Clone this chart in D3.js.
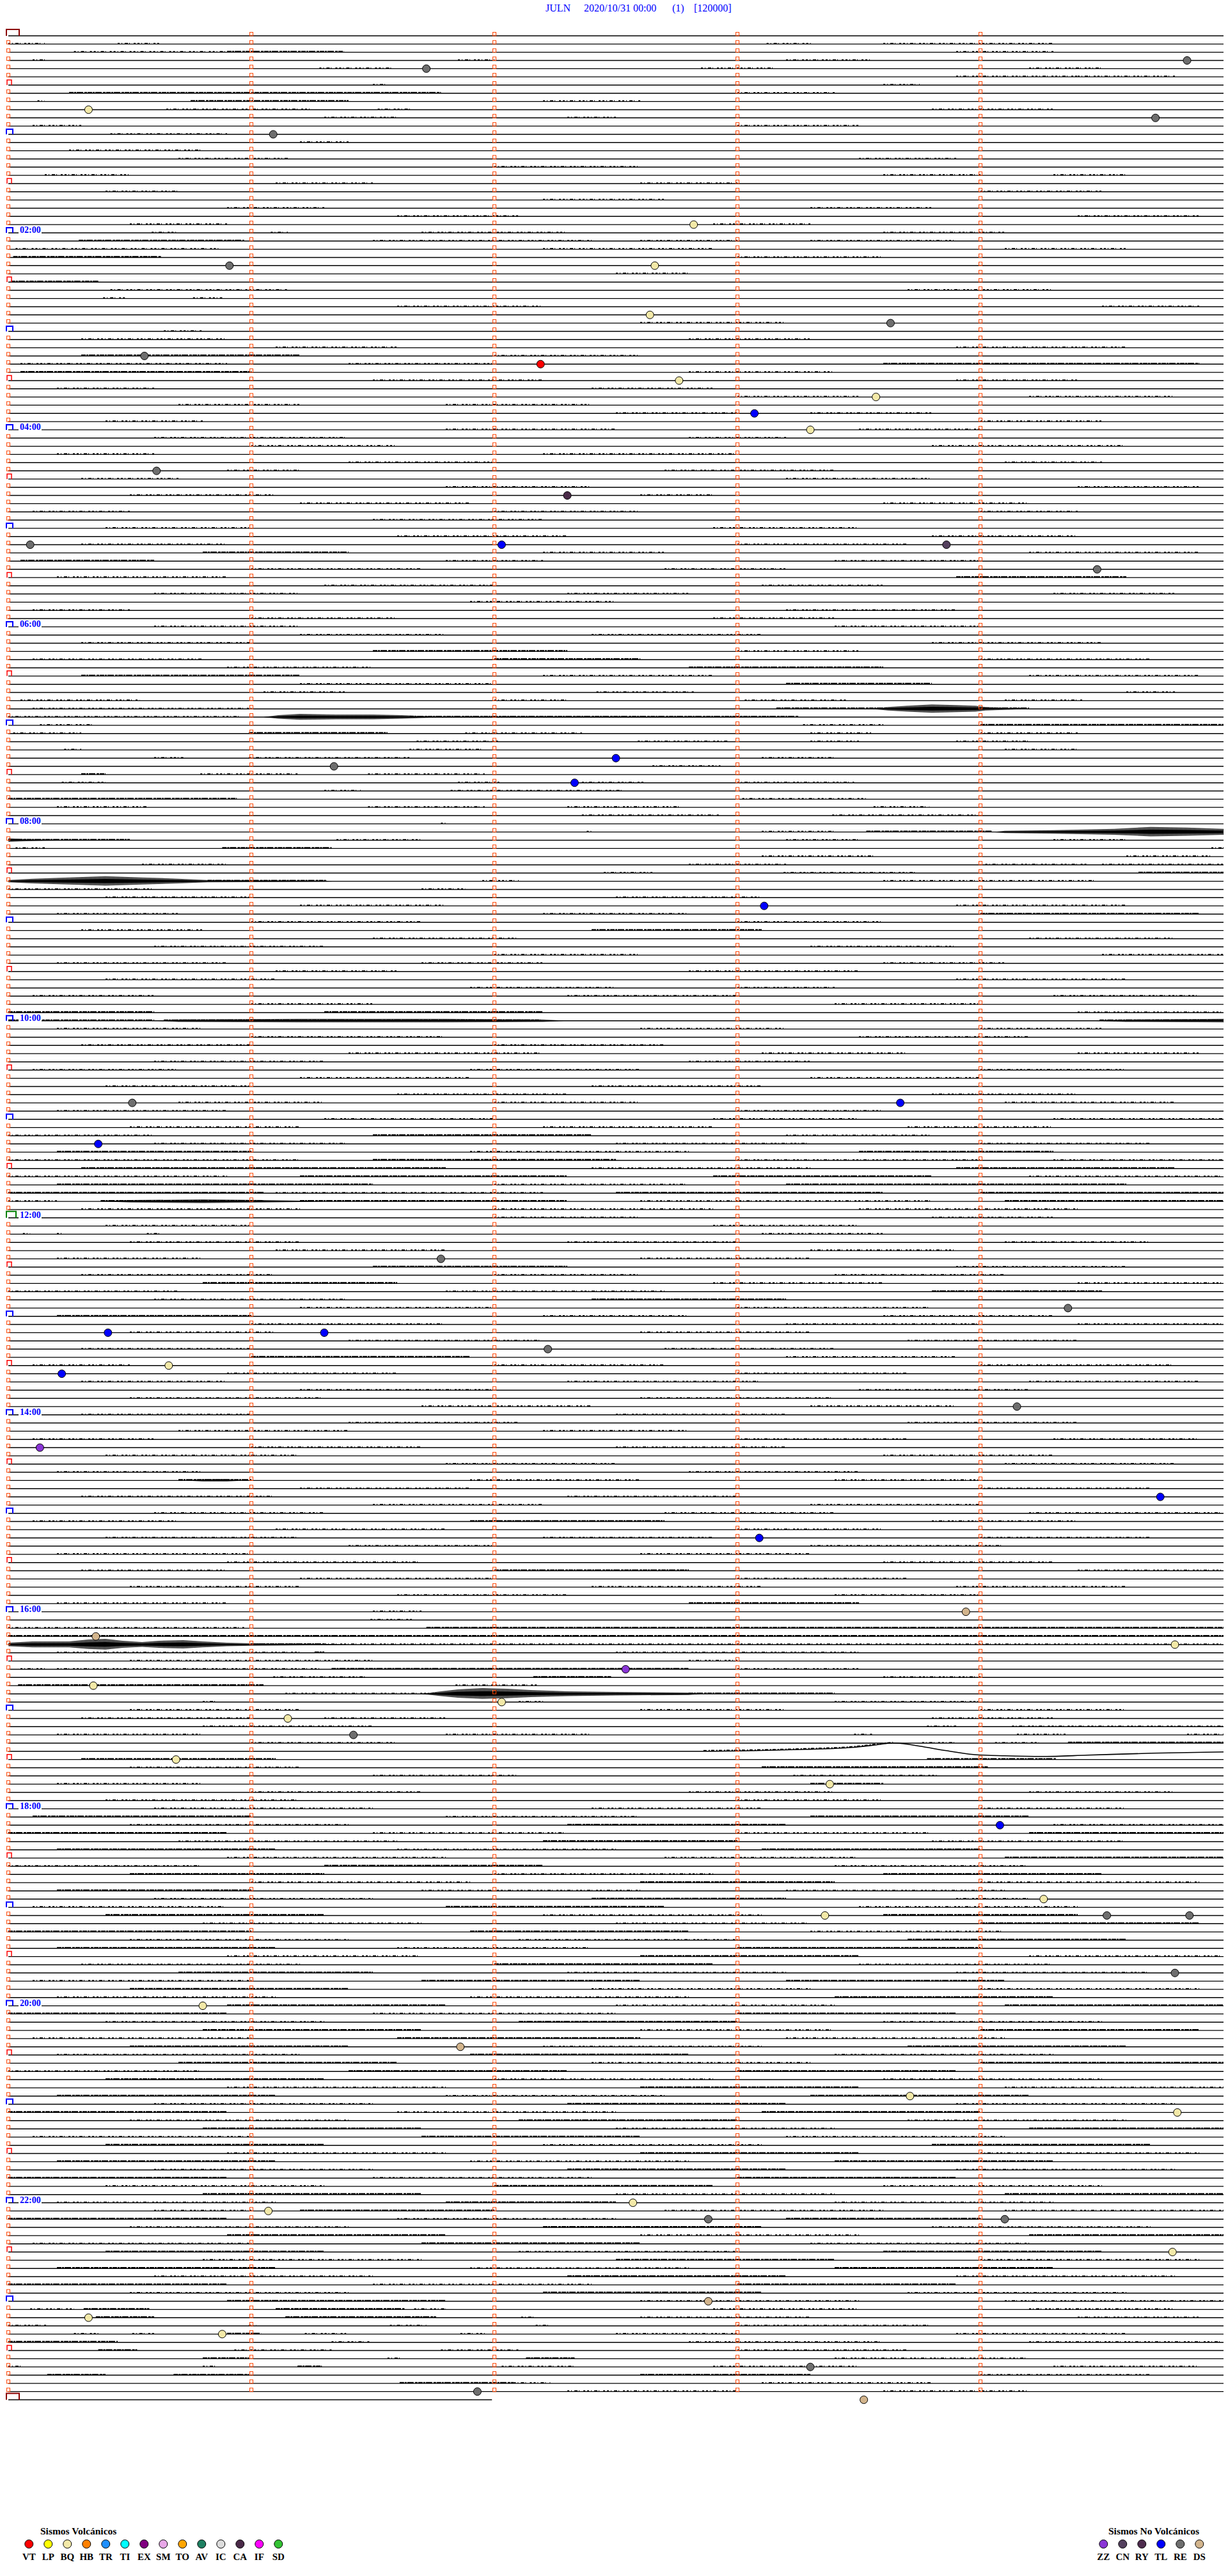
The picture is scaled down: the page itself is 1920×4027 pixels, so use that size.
<!DOCTYPE html>
<html><head><meta charset="utf-8">
<script src="https://cdn.jsdelivr.net/npm/d3@7"></script>
<style>html,body{margin:0;padding:0;background:#fff}svg{display:block}</style>
</head><body>
<script>
// ---------------- DATA ----------------
const station = "JULN", dateLabel = "2020/10/31 00:00", channelLabel = "(1)", scaleLabel = "[120000]";
const minutesPerLine = 5, lineCount = 289;           // 00:00 .. 24:00 in 5-minute rows
const lastLineMinutes = 1.99;
const hourLabels = ["02:00","04:00","06:00","08:00","10:00","12:00","14:00","16:00","18:00","20:00","22:00"];

const volcanicTypes  = ["VT","LP","BQ","HB","TR","TI","EX","SM","TO","AV","IC","CA","IF","SD"];
const volcanicColors = ["#ff0000","#ffff00","#f3e9a8","#ff8000","#1e8fff","#00ffff","#800080","#e8a8e8","#ffa500","#1e8062","#dcdcdc","#4a2a48","#ff00ff","#33c233"];
const nonVolcTypes   = ["ZZ","CN","RY","TL","RE","DS"];
const nonVolcColors  = ["#8a35d6","#54405e","#4e2c4e","#0000ff","#6e6e6e","#d2b48c"];

// events: [minutes since 00:00, type]
const events = [[19.85,"RE"],[21.72,"RE"],[45.33,"BQ"],[54.72,"RE"],[61.09,"RE"],[117.82,"BQ"],[140.91,"RE"],[142.66,"BQ"],
[172.64,"BQ"],[178.63,"RE"],[195.56,"RE"],[202.19,"VT"],[212.76,"BQ"],[223.57,"BQ"],[233.07,"TL"],[243.30,"BQ"],[265.61,"RE"],
[282.30,"CA"],[310.09,"RE"],[312.03,"TL"],[313.86,"CN"],[329.48,"RE"],[442.50,"TL"],[446.34,"RE"],[457.33,"TL"],[533.11,"TL"],
[650.51,"RE"],[653.67,"TL"],[675.37,"TL"],[746.78,"RE"],[779.36,"RE"],[790.41,"TL"],[791.30,"TL"],[802.22,"RE"],[810.66,"BQ"],
[815.22,"TL"],[839.15,"RE"],[860.13,"ZZ"],[894.74,"TL"],[918.09,"TL"],[963.94,"DS"],[975.36,"DS"],[984.80,"BQ"],[997.54,"ZZ"],
[1005.35,"BQ"],[1017.03,"BQ"],[1026.15,"BQ"],[1036.42,"RE"],[1050.69,"BQ"],[1068.38,"BQ"],[1094.08,"TL"],[1139.26,"BQ"],
[1148.36,"BQ"],[1149.52,"RE"],[1149.86,"RE"],[1184.80,"RE"],[1200.80,"BQ"],[1226.86,"DS"],[1258.71,"BQ"],[1269.81,"BQ"],
[1322.57,"BQ"],[1326.07,"BQ"],[1332.88,"RE"],[1334.10,"RE"],[1354.79,"BQ"],[1382.88,"DS"],[1390.33,"BQ"],[1400.88,"BQ"],
[1423.30,"RE"],[1436.93,"RE"],[1443.52,"DS"]];

// noise segments: [row, startMinute, endMinute, level(1 sparse, 2 dense)]
const noise = [
[1,0.0,0.15,1],[1,0.45,0.62,1],[1,3.12,3.31,1],[1,3.6,4.3,1],[2,0.27,0.9,1],[2,0.9,1.38,2],[2,3.9,4.3,1],[3,0.1,0.15,1],[3,1.85,2.0,1],[3,3.2,3.55,1],
[4,1.28,1.58,1],[4,2.85,3.15,1],[4,4.2,4.5,1],[5,3.9,4.4,1],[5,4.4,4.8,1],[6,1.5,1.55,1],[6,3.6,3.75,1],[7,0.25,1.78,2],[7,3.0,3.4,1],
[8,0.12,0.15,1],[8,0.75,1.4,2],[8,2.2,2.6,1],[9,0.65,1.25,1],[9,1.52,1.66,1],[9,3.8,4.3,1],[10,1.3,1.6,1],[10,2.3,2.5,1],[11,0.1,0.3,1],[11,3.0,3.5,1],
[12,0.42,0.9,1],[13,1.2,1.4,1],[14,0.25,0.8,1],[15,0.7,1.15,1],[15,3.5,3.9,1],[16,2.0,2.6,1],[17,0.15,0.5,1],[17,3.6,4.0,1],[17,4.3,4.6,1],
[18,1.1,1.5,1],[18,2.6,3.0,1],[19,0.4,0.7,1],[19,4.0,4.5,1],[20,2.2,2.7,1],[21,0.9,1.3,1],[21,3.3,3.8,1],[22,1.6,2.1,1],[22,4.4,4.9,1],
[23,0.5,0.9,1],[23,2.9,3.3,1],[24,0.59,0.7,1],[24,1.08,1.15,1],[24,1.7,2.3,1],[24,3.6,4.1,1],[25,0.29,0.97,2],[25,1.5,2.4,1],[25,2.6,3.0,1],[25,3.3,3.9,1],
[26,0.03,0.87,1],[26,2.2,2.9,1],[26,4.1,4.6,1],[27,0.02,0.63,2],[27,3.0,3.6,1],[29,2.5,2.8,1],[30,0.01,0.37,2],[31,0.42,1.15,1],[31,3.7,4.3,1],
[32,0.39,0.48,1],[32,0.76,0.88,1],[33,1.6,2.2,1],[33,4.5,4.9,1],[35,2.6,3.2,1],[36,0.64,0.8,1],[37,0.3,0.9,1],[37,2.8,3.3,1],[38,1.1,1.6,1],[38,3.9,4.6,1],
[39,0.3,1.2,2],[39,2.0,2.6,1],[40,0.05,0.9,1],[40,1.4,2.0,1],[40,3.6,4.9,2],[41,0.05,1.0,2],[41,2.8,3.4,1],[42,1.5,2.2,1],[42,3.9,4.4,1],
[43,0.2,0.6,1],[43,2.4,2.9,1],[44,3.0,3.5,1],[44,4.2,4.8,1],[45,0.7,1.2,1],[45,1.8,2.4,1],[46,2.5,3.0,1],[46,3.3,3.8,1],[47,0.4,0.8,1],[47,4.0,4.5,1],
[48,1.8,2.5,1],[48,3.5,4.0,1],[49,0.6,1.4,1],[49,2.8,3.2,1],[50,1.0,1.6,1],[50,3.8,4.6,1],[51,0.2,0.6,1],[51,2.2,3.0,1],[52,1.4,2.0,1],[52,4.1,4.5,1],
[53,0.9,1.2,1],[53,2.7,3.4,1],[54,0.3,0.7,1],[54,3.2,3.8,1],[55,1.8,2.4,1],[55,4.4,4.9,1],[56,0.5,1.1,1],[56,2.6,2.9,1],[57,1.2,1.9,1],[57,3.6,4.2,1],
[58,0.1,0.5,1],[58,2.0,2.6,1],[58,4.0,4.4,1],[59,1.5,2.2,1],[60,0.4,1.0,1],[60,2.9,3.5,1],[61,1.6,2.3,1],[61,3.8,4.4,1],[62,0.3,0.9,1],[62,3.0,3.7,1],
[63,0.8,1.4,2],[63,2.2,2.7,1],[63,4.2,4.9,1],[64,0.05,0.6,2],[64,1.8,2.2,1],[64,3.4,4.0,1],[65,1.0,1.7,1],[65,2.7,3.2,1],[66,0.2,0.9,1],[66,3.9,4.6,2],
[67,1.3,2.0,1],[67,3.1,3.6,1],[68,0.6,1.2,1],[68,2.3,2.8,1],[68,4.3,4.8,1],[69,1.9,2.5,1],[70,0.1,0.5,1],[70,3.2,3.9,1],[71,1.0,1.6,1],[71,2.9,3.4,1],
[72,0.6,1.2,1],[72,3.4,4.0,1],[73,1.2,1.8,1],[73,2.4,3.1,1],[74,0.3,1.0,1],[74,3.8,4.5,1],[75,1.5,2.3,2],[75,3.0,3.5,1],[76,0.1,0.8,1],[76,2.0,2.6,2],[76,4.0,4.7,1],
[77,0.9,1.5,1],[77,2.8,3.6,2],[78,0.3,1.2,2],[78,2.2,2.9,1],[78,4.2,4.9,1],[79,1.2,2.0,1],[79,3.2,3.8,2],[80,1.05,1.39,1],[80,2.42,2.82,1],[80,4.6,4.8,1],
[81,0.05,0.54,1],[81,2.0,2.3,1],[81,3.03,3.45,1],[81,4.1,4.42,1],[82,0.1,1.0,1],[82,3.16,3.62,2],[82,3.98,4.2,2],[83,0.0,0.95,1],[83,1.65,3.25,2],
[84,0.13,0.35,1],[84,3.27,3.6,1],[84,4.0,5.0,2],[85,0.02,0.3,1],[85,0.99,1.56,2],[85,1.88,2.36,1],[85,3.3,3.55,1],[85,4.0,4.4,1],
[86,1.68,2.02,1],[86,2.59,2.96,1],[86,3.3,3.5,1],[86,3.9,4.2,1],[87,0.23,0.3,1],[87,1.65,1.96,1],[87,4.1,4.4,1],[88,0.6,0.72,1],[88,0.99,1.65,1],[88,3.1,3.4,1],
[89,2.65,2.93,1],[90,0.3,0.4,2],[90,0.79,1.19,1],[90,1.48,1.96,1],[91,0.22,0.4,1],[91,1.85,2.02,1],[91,2.36,2.62,1],[91,3.0,3.48,1],[92,1.3,1.45,1],[92,1.82,2.53,1],
[93,0.0,0.94,2],[93,3.02,3.53,1],[94,0.2,0.57,1],[94,1.48,1.96,1],[94,2.3,2.76,1],[94,3.56,3.79,1],[95,2.36,2.93,1],[95,3.39,3.99,1],[96,1.78,1.8,1],
[97,2.38,2.4,1],[97,3.1,3.4,1],[97,3.53,4.05,2],[98,0.0,0.5,2],[98,1.35,1.7,1],[98,3.2,3.5,1],[98,4.3,4.6,1],[99,0.03,0.15,1],[99,0.88,1.33,2],[99,4.95,5.0,1],
[100,3.1,3.56,1],[100,4.6,4.95,1],[101,0.55,0.9,1],[101,2.8,3.2,1],[101,4.02,4.44,1],[101,4.5,5.0,1],[102,2.45,2.65,1],[102,3.19,3.73,1],[102,4.65,5.0,2],
[103,0.82,1.31,2],[103,1.95,2.1,1],[103,3.6,4.47,1],[104,0.0,0.6,1],[104,1.7,1.88,1],
[105,0.4,1.0,1],[105,2.5,3.1,1],[106,1.2,1.8,1],[106,3.9,4.6,1],[107,0.2,0.7,1],[107,2.2,2.8,1],[107,4.0,4.9,2],[108,1.0,1.7,1],[108,3.0,3.6,1],
[109,0.3,0.8,1],[109,2.4,3.1,2],[110,1.5,2.1,1],[110,4.2,4.8,1],[111,0.6,1.3,1],[111,3.3,3.9,1],[112,2.0,2.6,1],[112,4.5,5.0,1],
[113,0.2,0.9,1],[113,1.7,2.2,1],[113,3.6,4.1,1],[114,1.1,1.6,1],[114,2.8,3.5,1],[115,0.4,1.1,1],[115,3.9,4.6,1],[116,1.9,2.5,1],[116,3.0,3.4,1],
[117,0.1,0.6,1],[117,2.3,3.0,1],[117,4.3,4.9,1],[118,1.0,1.5,1],[118,3.4,4.0,1],[119,0.0,0.6,2],[119,1.3,2.2,2],[119,4.4,5.0,1],
[120,0.0,0.6,2],[120,0.64,2.19,2],[120,4.49,5.0,2],[121,0.2,0.8,1],[121,2.6,3.2,1],[121,4.0,4.5,1],[122,1.0,1.8,1],[122,3.5,4.2,1],[123,0.3,1.0,1],[123,2.0,2.7,1],
[124,1.4,2.2,1],[124,3.1,3.7,1],[124,4.4,4.9,1],[125,0.6,1.3,1],[125,2.8,3.3,1],[126,0.1,0.7,1],[126,1.9,2.6,1],[126,4.0,4.6,1],[127,1.2,1.9,1],[127,3.3,4.0,1],
[128,0.4,1.0,1],[128,2.4,3.1,1],[129,1.6,2.3,1],[129,3.8,4.4,1],[130,0.7,1.3,1],[130,2.0,2.6,1],[130,4.1,4.8,1],[131,0.2,0.9,1],[131,3.0,3.6,1],
[132,1.3,2.0,1],[132,2.9,3.5,1],[132,4.3,5.0,1],[133,0.5,1.2,1],[133,2.2,2.9,1],[133,3.7,4.3,1],[134,0.0,0.6,1],[134,1.5,2.4,2],[134,3.2,3.8,1],
[135,0.6,1.4,1],[135,2.5,3.3,1],[135,4.0,4.7,1],[136,0.2,1.0,2],[136,1.9,2.8,1],[136,3.5,4.3,2],[137,0.0,1.2,1],[137,1.5,2.5,2],[137,3.0,4.0,1],[137,4.3,5.0,1],
[138,0.3,1.8,2],[138,2.4,3.3,1],[138,3.9,4.8,2],[139,0.0,0.9,1],[139,1.2,2.3,2],[139,2.9,3.8,2],[139,4.2,5.0,1],[140,0.2,1.5,2],[140,2.0,2.8,1],[140,3.2,4.6,2],
[141,0.0,1.05,2],[141,1.1,2.2,1],[141,2.5,3.6,2],[141,4.0,5.0,2],[142,0.0,0.2,1],[142,0.38,1.05,2],[142,1.2,2.3,2],[142,2.6,3.8,1],[142,4.1,5.0,2],
[143,0.3,1.2,1],[143,2.0,2.9,1],[143,3.5,4.4,1],[144,2.0,2.6,1],[144,3.8,4.3,1],[145,0.4,1.0,1],[145,2.9,3.5,1],
[146,0.06,0.09,1],[146,0.2,0.22,1],[146,0.57,0.62,1],[146,3.1,3.6,1],[147,0.5,1.2,1],[147,2.3,3.0,1],[147,4.1,4.7,1],[148,1.1,1.8,1],[148,3.3,3.9,1],
[149,0.2,0.8,1],[149,2.6,3.3,1],[150,1.5,2.3,2],[150,3.9,4.6,1],[151,0.3,1.1,1],[151,2.0,2.6,1],[151,3.4,4.1,1],[152,0.8,1.6,2],[152,2.9,3.6,1],[152,4.4,5.0,1],
[153,0.0,0.7,1],[153,1.8,2.7,1],[153,3.8,4.5,2],[154,0.6,1.4,1],[154,2.4,3.2,2],[155,1.2,2.0,1],[155,3.0,3.8,1],[156,0.2,1.0,2],[156,2.2,2.8,1],[156,3.6,4.3,1],
[157,1.0,1.8,1],[157,3.2,4.0,1],[157,4.4,5.0,1],[158,0.5,1.1,1],[158,2.6,3.3,1],[159,1.4,2.2,1],[159,3.7,4.4,1],[160,0.3,1.0,1],[160,2.7,3.4,1],
[161,1.0,1.9,2],[161,3.2,3.9,1],[162,0.1,0.5,1],[162,2.0,2.7,1],[162,4.0,4.8,1],[163,0.9,1.6,1],[163,3.0,3.7,1],[164,0.3,0.9,1],[164,2.3,3.1,1],[164,4.2,4.9,1],
[165,1.2,2.0,1],[165,3.5,4.2,1],[166,0.5,1.3,1],[166,2.6,3.4,1],[167,1.7,2.4,1],[167,3.3,3.9,1],[168,0.3,1.0,1],[168,2.5,3.2,1],[169,1.4,2.1,1],[169,3.7,4.4,1],
[170,0.7,1.4,1],[170,2.2,2.8,1],[171,0.1,0.6,1],[171,3.0,3.7,1],[171,4.3,4.9,1],[172,1.0,1.7,1],[172,2.5,3.2,1],[173,0.4,1.2,1],[173,3.6,4.3,1],
[174,1.8,2.5,1],[174,4.1,4.8,1],[175,0.2,0.8,1],[175,2.8,3.5,1],[176,0.7,1.0,2],[176,1.9,2.6,1],[176,3.4,4.0,1],[177,1.2,1.9,1],[177,4.0,4.7,1],
[178,0.3,1.1,1],[178,2.3,3.0,1],[179,1.5,2.2,1],[179,3.3,4.0,1],[180,0.6,1.3,1],[180,2.7,3.4,1],[180,4.2,5.0,1],[181,0.1,0.7,1],[181,1.9,2.7,2],[181,3.8,4.4,1],
[182,1.1,1.8,1],[182,3.0,3.6,1],[183,0.4,1.2,1],[183,2.2,2.9,1],[183,4.0,4.7,1],[184,1.4,2.0,1],[184,3.3,4.1,1],[185,0.2,1.0,1],[185,2.6,3.3,1],
[186,0.9,1.7,1],[186,3.6,4.3,1],[187,0.3,0.9,1],[187,2.0,2.8,2],[187,4.4,5.0,1],[188,1.2,2.0,1],[188,3.0,3.7,1],[189,0.5,1.2,1],[189,2.4,3.1,1],[189,3.9,4.6,1],
[190,1.6,2.3,1],[190,3.4,4.0,1],[191,0.2,0.9,1],[191,2.8,3.5,2],[192,1.5,1.7,1],[193,1.49,1.66,1],[194,0.0,0.97,1],[194,1.72,2.0,2],[194,2.0,5.0,2],
[195,0.0,5.0,2],[196,1.0,1.3,2],[196,1.3,5.0,1],[197,0.2,1.2,1],[197,1.26,1.3,2],[197,2.5,3.5,1],[198,0.5,1.5,1],[198,2.8,3.0,1],
[199,0.05,0.15,1],[199,0.2,1.28,1],[199,1.33,2.8,2],[199,3.0,3.5,1],[200,1.09,1.48,1],[200,2.16,2.48,2],[200,3.6,4.0,1],[201,0.04,1.05,2],[201,1.84,2.18,1],
[202,1.14,1.78,1],[202,2.8,3.4,2],[203,0.8,0.85,1],[203,2.1,2.2,1],[203,3.4,4.0,1],[204,0.5,1.2,1],[204,2.6,3.2,1],[204,4.0,4.6,1],
[205,0.3,1.0,1],[205,1.3,1.8,1],[205,3.8,4.3,1],[206,0.8,1.5,1],[206,3.78,3.9,1],[206,4.13,5.0,1],[207,0.2,0.8,1],[207,1.8,2.4,1],[207,3.48,3.56,1],[207,4.15,4.35,1],[207,4.85,5.0,1],
[208,1.0,1.6,1],[208,3.76,3.9,1],[208,4.06,4.24,1],[208,4.36,5.0,2],[210,0.3,1.1,2],[210,3.78,4.31,2],[211,0.5,1.2,1],[211,3.1,4.03,2],[212,1.5,2.1,1],[212,3.23,3.82,1],
[213,0.2,0.8,1],[213,3.3,3.6,2],[214,1.0,1.7,1],[214,2.8,3.4,1],[214,4.2,4.8,1],[215,0.4,1.2,1],[215,3.0,3.6,1],
[216,0.6,1.5,1],[216,2.4,3.1,1],[216,4.0,4.6,1],[217,0.1,1.0,2],[217,1.8,2.6,1],[217,3.3,4.2,2],[218,0.5,1.4,1],[218,2.3,3.2,2],[218,4.3,5.0,1],
[219,0.0,0.9,2],[219,1.5,2.3,1],[219,3.0,3.8,1],[219,4.2,5.0,2],[220,0.7,1.6,1],[220,2.2,3.0,2],[220,3.8,4.6,1],[221,0.2,1.1,2],[221,1.6,2.5,1],[221,3.1,4.0,2],
[222,0.9,1.8,1],[222,2.7,3.5,1],[222,4.1,5.0,2],[223,0.0,0.8,1],[223,1.3,2.2,2],[223,3.4,4.2,1],[224,0.5,1.3,2],[224,2.0,2.9,1],[224,3.6,4.5,2],
[225,1.0,1.9,1],[225,2.6,3.4,2],[225,4.0,4.9,1],[226,0.2,1.0,2],[226,1.7,2.6,1],[226,3.2,4.1,1],[227,0.6,1.5,1],[227,2.4,3.2,2],[227,3.9,4.2,1],
[228,0.1,0.9,1],[228,1.8,2.7,2],[228,3.5,4.4,1],[229,0.4,1.3,2],[229,2.2,3.1,1],[229,3.6,4.4,2],[230,0.8,1.7,1],[230,2.5,3.3,1],[230,4.0,4.9,2],
[231,0.0,1.0,2],[231,1.9,2.8,2],[231,3.3,4.1,1],[232,0.5,1.4,1],[232,2.1,3.0,1],[232,3.7,4.6,2],[233,0.2,1.1,2],[233,1.6,2.4,1],[233,3.0,4.0,2],
[234,0.9,1.7,1],[234,2.6,3.5,2],[234,4.2,5.0,1],[235,0.3,1.2,1],[235,2.0,2.9,2],[235,3.5,4.3,1],[236,0.7,1.5,2],[236,2.3,3.2,1],[236,3.9,4.7,1],
[237,0.1,1.0,1],[237,1.7,2.6,2],[237,3.2,4.1,2],[238,0.5,1.4,2],[238,2.4,3.3,1],[238,4.0,4.9,1],[239,0.2,1.1,1],[239,1.9,2.8,1],[239,3.4,4.3,2],
[240,0.9,1.8,2],[240,2.5,3.4,1],[240,4.1,5.0,2],[241,0.0,0.9,2],[241,1.5,2.5,1],[241,3.0,3.9,2],[242,0.4,1.3,1],[242,2.1,3.0,2],[242,3.6,4.5,1],
[243,0.8,1.7,2],[243,2.6,3.4,1],[243,4.0,4.9,2],[244,0.1,1.0,1],[244,1.6,2.6,2],[244,3.2,4.1,1],[245,0.5,1.4,2],[245,2.2,3.1,1],[245,3.7,4.6,2],
[246,0.2,1.2,1],[246,1.9,2.8,2],[246,3.4,4.3,1],[247,0.7,1.6,2],[247,2.4,3.3,1],[247,4.0,5.0,2],[248,0.0,0.8,1],[248,1.4,2.3,2],[248,3.0,3.9,2],
[249,0.4,1.3,2],[249,2.0,2.9,1],[249,3.6,4.5,1],[250,0.9,1.8,1],[250,2.6,3.5,2],[250,4.1,5.0,1],[251,0.2,1.1,2],[251,1.8,2.7,1],[251,3.3,4.2,2],
[252,0.6,1.5,1],[252,2.3,3.2,2],[252,3.9,4.8,1],[253,0.0,0.9,2],[253,1.6,2.5,1],[253,3.1,4.0,2],[254,0.5,1.4,1],[254,2.1,3.0,2],[254,3.7,4.6,1],
[255,0.8,1.7,2],[255,2.5,3.4,1],[255,4.2,5.0,2],[256,0.1,1.0,1],[256,1.7,2.6,2],[256,3.2,4.1,1],[257,0.4,1.3,2],[257,2.2,3.1,1],[257,3.8,4.7,2],
[258,0.9,1.8,1],[258,2.6,3.5,2],[258,4.0,4.9,1],[259,0.2,1.1,2],[259,1.9,2.8,1],[259,3.4,4.3,2],[260,0.6,1.5,1],[260,2.3,3.2,2],[260,3.9,4.8,1],
[261,0.0,0.9,2],[261,1.5,2.4,1],[261,3.0,3.9,2],[262,0.4,1.3,1],[262,2.0,2.9,2],[262,3.6,4.5,1],[263,0.8,1.7,2],[263,2.5,3.4,1],[263,4.1,5.0,2],
[264,0.2,1.1,1],[264,1.8,2.5,2],[264,3.4,4.3,1],[265,0.6,1.0,1],[265,1.2,2.0,2],[265,2.7,3.6,1],[265,4.1,5.0,1],[266,0.0,0.9,2],[266,1.6,2.5,1],[266,3.2,4.0,2],
[267,0.5,1.4,1],[267,2.2,3.1,2],[267,3.8,4.7,1],[268,0.9,1.8,2],[268,2.6,3.5,1],[268,4.2,5.0,2],[269,0.1,1.0,1],[269,1.7,2.6,2],[269,3.3,4.2,1],
[270,0.4,1.3,2],[270,2.1,3.0,1],[270,3.6,4.5,2],[271,0.8,1.7,1],[271,2.5,3.4,2],[271,4.0,4.9,1],[272,0.2,1.1,2],[272,1.9,2.8,1],[272,3.4,4.3,2],
[273,0.6,1.5,1],[273,2.3,3.2,2],[273,3.9,4.8,1],[274,0.0,0.9,2],[274,1.5,2.4,1],[274,3.0,3.9,2],[275,0.5,1.4,1],[275,2.2,3.1,2],[275,3.7,4.6,1],
[276,0.9,1.8,2],[276,2.6,3.5,1],[276,4.1,5.0,1],
[277,0.09,0.27,1],[277,0.31,0.58,2],[277,1.10,1.63,2],[277,1.67,1.80,1],[277,2.9,3.5,1],[277,4.2,4.8,1],
[278,0.36,0.60,2],[278,1.14,1.76,2],[278,2.11,2.16,1],[278,2.6,3.3,1],[278,4.4,4.9,1],
[279,0.0,0.16,1],[279,0.99,1.02,1],[279,1.57,1.72,1],[279,2.17,2.23,1],[279,3.0,3.8,1],
[280,0.27,0.37,1],[280,0.51,0.6,1],[280,0.9,1.04,2],[280,1.22,1.39,1],[280,1.86,1.97,1],[280,2.5,3.0,1],[280,3.9,4.6,1],
[281,0.0,0.45,2],[281,1.33,1.49,1],[281,2.8,3.6,1],[281,4.2,5.0,1],
[282,0.37,0.53,2],[282,0.93,1.33,1],[282,1.78,2.1,1],[282,3.0,3.7,1],
[283,0.8,0.99,2],[283,1.56,1.61,1],[283,2.13,2.33,2],[283,3.4,4.2,1],
[284,0.0,0.06,1],[284,0.8,0.85,1],[284,1.19,1.29,2],[284,2.03,2.33,1],[284,2.9,3.5,1],[284,4.3,4.9,1],
[285,0.16,0.4,2],[285,0.68,0.99,2],[285,2.6,3.3,2],[285,4.0,4.7,1],
[286,1.61,2.08,2],[286,2.08,2.23,1],[286,3.1,3.8,1],[287,2.3,3.0,1],[287,3.6,4.2,1]
];

// larger bursts: [row, [[minute, amplitude px], ...]]
const tremors = [
[82,[[3.55,0],[3.62,3],[3.7,5],[3.8,7],[3.9,6],[3.98,5],[4.02,3],[4.15,1],[4.2,0]]],
[83,[[1.05,0],[1.11,3],[1.2,5],[1.35,4],[1.5,4],[1.62,3],[1.75,1],[2.5,1],[3.25,0]]],
[97,[[4.05,0],[4.1,2],[4.3,3],[4.55,5],[4.7,8],[4.85,7],[5.0,5]]],
[98,[[0.0,3],[0.05,2],[0.15,1],[0.3,0]]],
[103,[[0.0,2],[0.1,4],[0.25,6],[0.4,8],[0.55,6],[0.7,4],[0.82,2],[1.3,1],[1.35,0]]],
[120,[[0.6,0],[0.7,2],[1.2,3],[1.8,3],[2.2,2],[2.3,0]]],
[120,[[4.45,0],[4.6,2],[5.0,3]]],
[142,[[0.38,0],[0.5,2],[0.8,3],[1.05,2],[1.2,1],[1.3,0]]],
[176,[[0.72,0],[0.8,2],[0.9,2],[0.98,0]]],
[196,[[0.0,3],[0.1,5],[0.25,5],[0.33,8],[0.4,9],[0.47,6],[0.55,4],[0.62,6],[0.72,7],[0.8,5],[0.9,3],[1.0,2],[1.3,1],[1.4,0]]],
[202,[[1.7,0],[1.78,4],[1.85,7],[1.95,9],[2.05,8],[2.15,6],[2.3,4],[2.5,3],[2.8,2],[2.85,0]]]
];

// drifting trace row (17:25): [minute, vertical offset px]
const driftRow = 209;
const driftPoints = [[0,0],[2.86,0],[3.07,-1],[3.28,-3],[3.47,-6],[3.57,-10],[3.64,-13],[3.68,-12],[3.75,-8],[3.86,-1],
[3.97,5],[4.10,7],[4.26,8],[4.44,6],[4.70,3],[5.0,1]];

// ---------------- DRAW ----------------
const W = 1920, H = 4027;
const svg = d3.select("body").append("svg").attr("width", W).attr("height", H);
svg.append("rect").attr("width", W).attr("height", H).attr("fill", "#fff");

// vertical-stroke texture for the large bursts
const defs = svg.append("defs");
const pat = defs.append("pattern").attr("id", "spikes").attr("patternUnits", "userSpaceOnUse")
  .attr("width", 2).attr("height", 6);
pat.append("rect").attr("x", 0).attr("y", 0).attr("width", 1.4).attr("height", 6).attr("fill", "#000");

const x = d3.scaleLinear().domain([0, minutesPerLine]).range([13, 1913]);
const y = d3.scaleLinear().domain([0, lineCount - 1]).range([56, 3751.5]);

const rows = d3.range(lineCount);
const gLines = svg.append("g");
gLines.selectAll("line").data(rows.filter(r => r !== driftRow)).join("line")
  .attr("x1", x(0)).attr("x2", r => r === lineCount - 1 ? x(lastLineMinutes) : x(minutesPerLine))
  .attr("y1", r => y(r)).attr("y2", r => y(r))
  .attr("stroke", "#000").attr("stroke-width", 1.4);

// drift trace
svg.append("path").datum(driftPoints)
  .attr("d", d3.line().x(d => x(d[0])).y(d => y(driftRow) + d[1]).curve(d3.curveMonotoneX))
  .attr("fill", "none").attr("stroke", "#000").attr("stroke-width", 1.6);
svg.append("path").datum(driftPoints.filter(d => d[0] >= 2.86 && d[0] <= 3.64))
  .attr("d", d3.line().x(d => x(d[0])).y(d => y(driftRow) + d[1] - 1).curve(d3.curveMonotoneX))
  .attr("fill", "none").attr("stroke", "#000").attr("stroke-width", 2.2).attr("stroke-dasharray", "5 3 2 2");

// noise
const gNoise = svg.append("g");
gNoise.selectAll("line").data(noise).join("line")
  .attr("x1", d => x(d[1])).attr("x2", d => x(d[2]))
  .attr("y1", d => y(d[0]) - 1).attr("y2", d => y(d[0]) - 1)
  .attr("stroke", "#000")
  .attr("stroke-width", d => d[3] === 2 ? 2.2 : 1.6)
  .attr("stroke-dasharray", d => d[3] === 2 ? "7 1 3 1 10 2 4 1" : "3 3 1 4 5 2 1 6 3 3");

// tremors: textured outer envelope + solid core
const area = d3.area().x(d => x(d[0])).curve(d3.curveLinear);
const gTrem = svg.append("g");
gTrem.selectAll("path.outer").data(tremors).join("path").attr("class", "outer")
  .attr("d", t => area.y0(d => y(t[0]) + d[1] * 0.85).y1(d => y(t[0]) - d[1])(t[1]))
  .attr("fill", "url(#spikes)").attr("stroke", "none");
gTrem.selectAll("path.core").data(tremors).join("path").attr("class", "core")
  .attr("d", t => area.y0(d => y(t[0]) + d[1] * 0.35).y1(d => y(t[0]) - d[1] * 0.45)(t[1]))
  .attr("fill", "#000").attr("stroke", "none");

// minute boxes
const gBox = svg.append("g");
const minuteMarks = [];
rows.forEach(r => {
  if (r === lineCount - 1) return;
  [0,1,2,3,4].forEach(m => {
    if (m === 0 && (r % 6 === 0)) return;
    minuteMarks.push([r, m]);
  });
});
gBox.selectAll("rect").data(minuteMarks).join("rect")
  .attr("x", d => x(d[1]) - 2.5).attr("y", d => y(d[0]) - 5.5)
  .attr("width", 5).attr("height", 5.5)
  .attr("fill", "none").attr("stroke", "#ff4500").attr("stroke-width", 1);

// start-of-row markers
function cap(g, x0, x1, yy, h, col, sw) {
  g.append("path").attr("d", `M${x0},${yy} V${yy - h} H${x1} V${yy}`)
    .attr("fill", "none").attr("stroke", col).attr("stroke-width", sw);
}
const gCap = svg.append("g");
rows.forEach(r => {
  const yy = y(r);
  if (r === 0 || r === lineCount - 1) cap(gCap, 10, 30, yy, 10, "#8b0000", 2);
  else if (r % 12 === 0) {
    if (r === 144) cap(gCap, 10, 25, yy, 10, "#008000", 2);
    else cap(gCap, 10, 20, yy, 8, "#0000ff", 2);
  } else if (r % 6 === 0) cap(gCap, 11, 18, yy, 8, "#ff0000", 1.5);
});

// hour labels
const gHr = svg.append("g");
hourLabels.forEach(lbl => {
  const r = (+lbl.slice(0, 2)) * 12;
  const yy = y(r);
  gHr.append("rect").attr("x", 29).attr("y", yy - 11).attr("width", 36).attr("height", 13).attr("fill", "#fff");
  gHr.append("text").attr("x", 31).attr("y", yy).text(lbl)
    .attr("font-family", "'Liberation Serif','Times New Roman',serif").attr("font-weight", "bold")
    .attr("font-size", 14).attr("fill", "#0000ff");
});

// events
const colorOf = {};
volcanicTypes.forEach((t, i) => colorOf[t] = volcanicColors[i]);
nonVolcTypes.forEach((t, i) => colorOf[t] = nonVolcColors[i]);
svg.append("g").selectAll("circle").data(events).join("circle")
  .attr("cx", d => { const r = Math.floor(d[0] / minutesPerLine); return x(d[0] - r * minutesPerLine); })
  .attr("cy", d => y(Math.floor(d[0] / minutesPerLine)))
  .attr("r", 6).attr("fill", d => colorOf[d[1]]).attr("stroke", "#000").attr("stroke-width", 1);

// title
const title = svg.append("text").attr("y", 18)
  .attr("font-family", "'Liberation Serif','Times New Roman',serif").attr("font-size", 16).attr("fill", "#0000ff");
title.append("tspan").attr("x", 853).text(station);
title.append("tspan").attr("x", 913).text(dateLabel);
title.append("tspan").attr("x", 1051).text(channelLabel);
title.append("tspan").attr("x", 1085).text(scaleLabel);

// legends
function legend(types, colors, x0, titleText, titleX) {
  const g = svg.append("g");
  g.append("text").attr("x", titleX).attr("y", 3962).text(titleText)
    .attr("font-family", "'Liberation Serif','Times New Roman',serif").attr("font-weight", "bold").attr("font-size", 15.5).attr("fill", "#000");
  const lx = d3.scalePoint().domain(types).range([x0, x0 + 30 * (types.length - 1)]);
  g.selectAll("circle").data(types).join("circle")
    .attr("cx", d => lx(d)).attr("cy", 3977).attr("r", 6.5)
    .attr("fill", (d, i) => colors[i]).attr("stroke", "#000").attr("stroke-width", 1);
  g.selectAll("text.lbl").data(types).join("text").attr("class", "lbl")
    .attr("x", d => lx(d)).attr("y", 4002).attr("text-anchor", "middle").text(d => d)
    .attr("font-family", "'Liberation Serif','Times New Roman',serif").attr("font-weight", "bold").attr("font-size", 15).attr("fill", "#000");
}
legend(volcanicTypes, volcanicColors, 45.3, "Sismos Volcánicos", 63);
legend(nonVolcTypes, nonVolcColors, 1725.3, "Sismos No Volcánicos", 1733);
</script>
</body></html>
